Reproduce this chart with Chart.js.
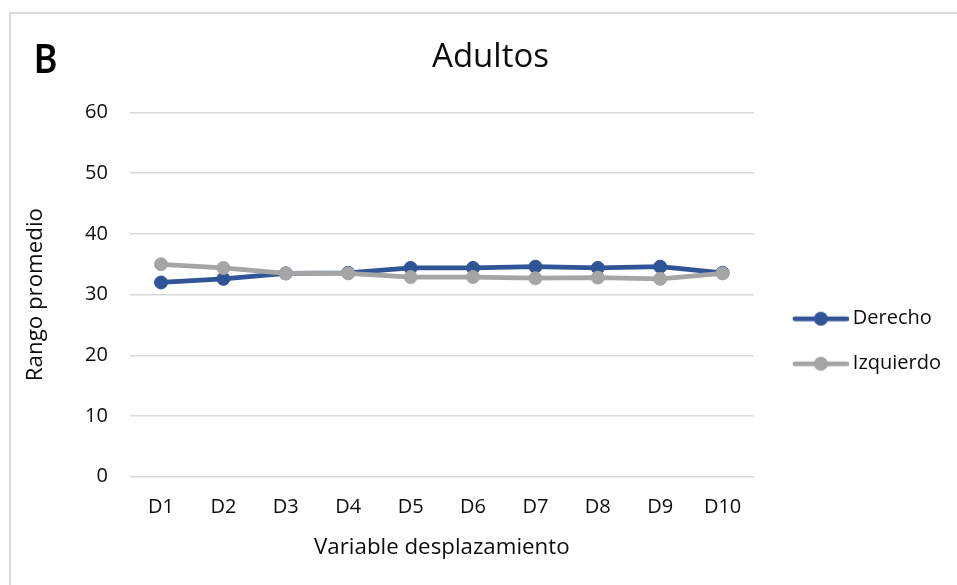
<!DOCTYPE html>
<html>
<head>
<meta charset="utf-8">
<title>Adultos</title>
<script src="https://cdn.jsdelivr.net/npm/chart.js@4.4.1/dist/chart.umd.min.js"></script>
<style>
  html, body { margin: 0; padding: 0; background: #ffffff; }
  #c { display: block; }
</style>
</head>
<body>
<canvas id="c" width="957" height="585"></canvas>
<script>
// Mean rank per displacement variable, right vs left side (adults)
const categories = ['D1', 'D2', 'D3', 'D4', 'D5', 'D6', 'D7', 'D8', 'D9', 'D10'];
const derecho   = [32.0, 32.6, 33.5, 33.6, 34.4, 34.4, 34.6, 34.4, 34.6, 33.6];
const izquierdo = [35.0, 34.4, 33.5, 33.5, 32.9, 32.9, 32.7, 32.8, 32.6, 33.5];
const seriesNames = ['Derecho', 'Izquierdo'];
const seriesColors = ['#2F5597', '#A5A5A5'];
const yMin = 0, yMax = 60, yStep = 10;

const FONT = "'Open Sans', 'Noto Sans', sans-serif";
const TEXT = '#0d0d0d';

// Legend swatch: a short line with a dot in its middle, like the series lines
function makeSwatch(color) {
  const c = document.createElement('canvas');
  c.width = 76; c.height = 16;
  const g = c.getContext('2d');
  g.strokeStyle = color;
  g.lineWidth = 4.75;
  g.lineCap = 'round';
  g.beginPath(); g.moveTo(22, 8); g.lineTo(74, 8); g.stroke();
  g.fillStyle = color;
  g.beginPath(); g.arc(48, 8, 7, 0, Math.PI * 2); g.fill();
  return c;
}
const swatches = seriesColors.map(makeSwatch);

// Light frame around the figure and the panel letter
const panelDecor = {
  id: 'panelDecor',
  beforeDraw(chart) {
    const ctx = chart.ctx;
    ctx.save();
    ctx.strokeStyle = '#d9d9d9';
    ctx.lineWidth = 2;
    ctx.beginPath();
    ctx.moveTo(10, 585); ctx.lineTo(10, 13); ctx.lineTo(957, 13);
    ctx.stroke();
    ctx.restore();
  },
  afterDraw(chart) {
    const ctx = chart.ctx;
    ctx.save();
    ctx.translate(34, 73);
    ctx.scale(0.88, 1);
    ctx.font = "bold 40px Lato, 'Open Sans', sans-serif";
    ctx.fillStyle = '#000000';
    ctx.textBaseline = 'alphabetic';
    ctx.fillText('B', 0, 0);
    ctx.restore();
  }
};

const tickFont = { family: FONT, size: 20 };
const axisTitleFont = { family: FONT, size: 22.3 };

new Chart(document.getElementById('c'), {
  type: 'line',
  data: {
    labels: categories,
    datasets: [
      {
        label: seriesNames[0],
        data: derecho,
        borderColor: seriesColors[0],
        backgroundColor: seriesColors[0],
        pointBackgroundColor: seriesColors[0],
        pointBorderColor: seriesColors[0],
        order: 1
      },
      {
        label: seriesNames[1],
        data: izquierdo,
        borderColor: seriesColors[1],
        backgroundColor: seriesColors[1],
        pointBackgroundColor: seriesColors[1],
        pointBorderColor: seriesColors[1],
        order: 0
      }
    ]
  },
  options: {
    responsive: false,
    animation: false,
    devicePixelRatio: 1,
    events: [],
    layout: { padding: { left: 30, right: 6, top: 10, bottom: 20 } },
    elements: {
      line: { borderWidth: 4.75, tension: 0, fill: false, borderCapStyle: 'round', borderJoinStyle: 'round' },
      point: { radius: 6.5, borderWidth: 1, hoverRadius: 6.5 }
    },
    plugins: {
      title: {
        display: true,
        text: 'Adultos',
        color: TEXT,
        font: { family: FONT, size: 33, weight: 'normal' },
        padding: { top: 28.2, bottom: 34.7 }
      },
      legend: {
        position: 'right',
        fullSize: false,
        align: 'center',
        title: { display: true, text: ' ', font: { size: 1 }, padding: { top: 92, bottom: 0 } },
        labels: {
          usePointStyle: true,
          pointStyleWidth: 64,
          padding: 25,
          color: TEXT,
          font: { family: FONT, size: 20 },
          sort: (a, b) => a.datasetIndex - b.datasetIndex,
          generateLabels(chart) {
            const items = Chart.defaults.plugins.legend.labels.generateLabels(chart);
            items.forEach(it => { it.pointStyle = swatches[it.datasetIndex]; });
            return items;
          }
        }
      },
      tooltip: { enabled: false }
    },
    scales: {
      x: {
        offset: true,
        grid: { display: false, drawTicks: false },
        border: { display: false },
        ticks: { padding: 19, color: TEXT, font: tickFont },
        title: {
          display: true,
          text: 'Variable desplazamiento',
          color: TEXT,
          font: axisTitleFont,
          padding: { top: -4.1, bottom: 3.6 }
        }
      },
      y: {
        min: yMin,
        max: yMax,
        ticks: { stepSize: yStep, padding: 22, color: TEXT, font: tickFont },
        grid: { color: '#d9d9d9', lineWidth: 1.5, drawTicks: false },
        border: { display: false },
        title: {
          display: true,
          text: 'Rango promedio',
          color: TEXT,
          font: axisTitleFont,
          padding: { top: -7.9, bottom: 14.1 }
        }
      }
    }
  },
  plugins: [panelDecor]
});
</script>
</body>
</html>
